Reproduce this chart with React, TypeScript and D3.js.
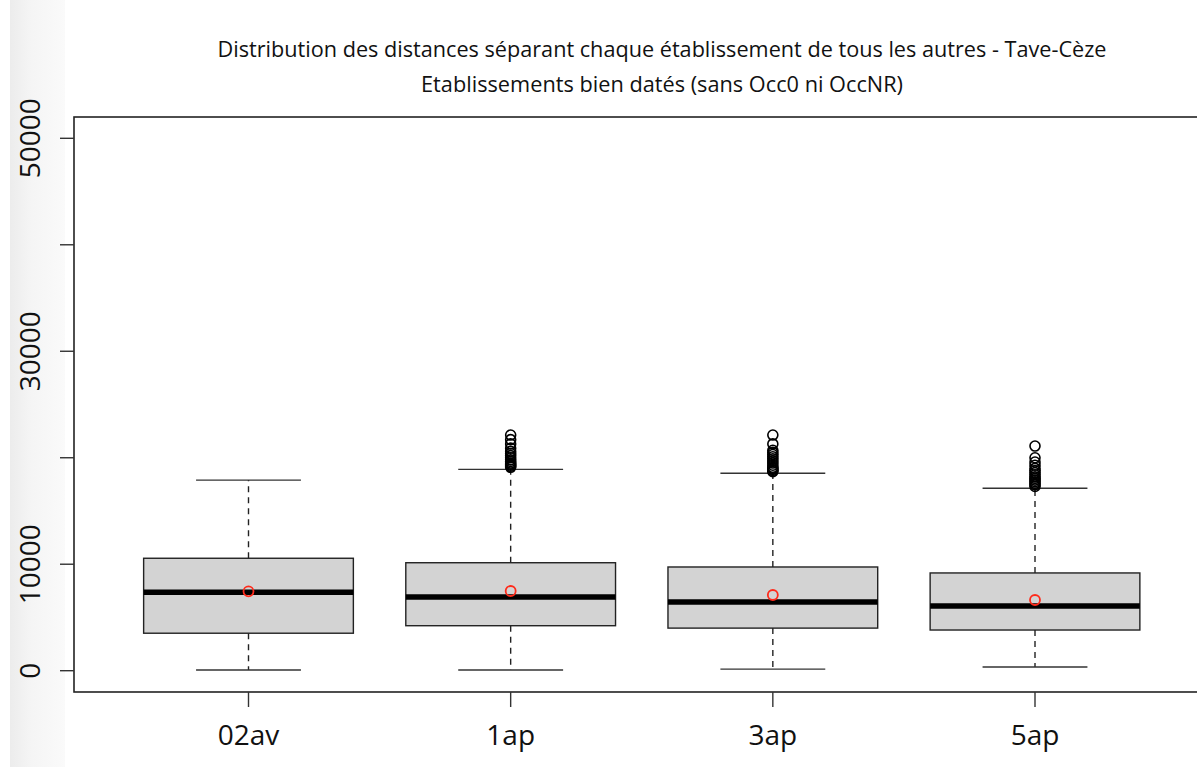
import React from "react";
import * as d3 from "d3";

const categories = ["02av", "1ap", "3ap", "5ap"];
const lowerWhisker = [60, 65, 150, 350];
const q1 = [3520, 4225, 4000, 3820];
const medians = [7360, 6920, 6450, 6080];
const q3 = [10560, 10140, 9740, 9180];
const upperWhisker = [17900, 18910, 18540, 17130];
const means = [7450, 7485, 7110, 6640];
const outliers: number[][] = [
  [],
  [19100, 19200, 19300, 19400, 19500, 19650, 19800, 20000, 20200, 20400, 20600, 20900, 21300, 21700, 22130],
  [18700, 18800, 18900, 19000, 19100, 19300, 19500, 19700, 19900, 20100, 20300, 20500, 20700, 21300, 22130],
  [17300, 17450, 17600, 17750, 17900, 18050, 18200, 18400, 18600, 18800, 19000, 19300, 19600, 20000, 21100],
];
const yTicks = [0, 10000, 20000, 30000, 40000, 50000];
const yTickLabels = ["0", "10000", "", "30000", "", "50000"];
const titleLines = [
  "Distribution des distances séparant chaque établissement de tous les autres - Tave-Cèze",
  "Etablissements bien datés (sans Occ0 ni OccNR)",
];

const W = 1197;
const H = 767;
const FONT = "'Open Sans', 'DejaVu Sans', sans-serif";

export default function App() {
  const x = d3.scaleLinear().domain([1, 4]).range([248.5, 1035]);
  const y = d3.scaleLinear().domain([0, 50000]).range([670.7, 138.3]);
  const unit = x(2) - x(1);
  const halfBox = unit * 0.4;
  const halfStaple = halfBox / 2;
  const frameLeft = 74;
  const frameRight = x(4.66);
  const frameTop = y(52000);
  const frameBottom = y(-2000);

  return (
    <svg
      width={W}
      height={H}
      style={{ position: "absolute", left: 0, top: 0, background: "#fff" }}
      fontFamily={FONT}
    >
      <defs>
        <linearGradient id="strip" x1="0" x2="1" y1="0" y2="0">
          <stop offset="0%" stopColor="#ececec" />
          <stop offset="40%" stopColor="#f5f5f5" />
          <stop offset="100%" stopColor="#fafafa" />
        </linearGradient>
      </defs>
      <rect x={0} y={0} width={W} height={H} fill="#fff" />
      <rect x={10} y={0} width={55} height={H} fill="url(#strip)" />

      {/* title */}
      <text x={662} y={57} fontSize={21} fontWeight={500} textAnchor="middle" fill="#111" textLength={889} lengthAdjust="spacingAndGlyphs">
        {titleLines[0]}
      </text>
      <text x={662} y={92} fontSize={21} fontWeight={500} textAnchor="middle" fill="#111" textLength={482} lengthAdjust="spacingAndGlyphs">
        {titleLines[1]}
      </text>

      {/* plot frame */}
      <rect
        x={frameLeft}
        y={frameTop}
        width={frameRight - frameLeft}
        height={frameBottom - frameTop}
        fill="none"
        stroke="#222"
        strokeWidth={1.6}
      />

      {/* y axis ticks */}
      {yTicks.map((t, i) => (
        <g key={"yt" + t}>
          <line x1={60} x2={frameLeft} y1={y(t)} y2={y(t)} stroke="#333" strokeWidth={1.4} />
          {yTickLabels[i] && (
            <text
              transform={`translate(40,${y(t)}) rotate(-90)`}
              fontSize={28}
              fontWeight={500}
              textAnchor="middle"
              fill="#111"
            >
              {yTickLabels[i]}
            </text>
          )}
        </g>
      ))}

      {/* x axis ticks */}
      {categories.map((c, i) => (
        <g key={"xt" + c}>
          <line x1={x(i + 1)} x2={x(i + 1)} y1={frameBottom} y2={707} stroke="#333" strokeWidth={1.4} />
          <text x={x(i + 1)} y={745} fontSize={28} fontWeight={500} textAnchor="middle" fill="#111">
            {c}
          </text>
        </g>
      ))}

      {/* boxes */}
      {categories.map((c, i) => {
        const cx = x(i + 1);
        return (
          <g key={"box" + c}>
            <line x1={cx} x2={cx} y1={y(q3[i])} y2={y(upperWhisker[i])} stroke="#222" strokeWidth={1.4} strokeDasharray="6,5" />
            <line x1={cx} x2={cx} y1={y(q1[i])} y2={y(lowerWhisker[i])} stroke="#222" strokeWidth={1.4} strokeDasharray="6,5" />
            <line x1={cx - halfStaple} x2={cx + halfStaple} y1={y(upperWhisker[i])} y2={y(upperWhisker[i])} stroke="#333" strokeWidth={1.4} />
            <line x1={cx - halfStaple} x2={cx + halfStaple} y1={y(lowerWhisker[i])} y2={y(lowerWhisker[i])} stroke="#333" strokeWidth={1.4} />
            <rect
              x={cx - halfBox}
              y={y(q3[i])}
              width={halfBox * 2}
              height={y(q1[i]) - y(q3[i])}
              fill="#d3d3d3"
              stroke="#222"
              strokeWidth={1.4}
            />
            <line x1={cx - halfBox} x2={cx + halfBox} y1={y(medians[i])} y2={y(medians[i])} stroke="#000" strokeWidth={5.5} />
            {outliers[i].map((v, j) => (
              <circle key={j} cx={cx} cy={y(v)} r={5} fill="none" stroke="#000" strokeWidth={1.6} />
            ))}
            <circle cx={cx} cy={y(means[i])} r={5} fill="none" stroke="#ff2a1a" strokeWidth={1.8} />
          </g>
        );
      })}
    </svg>
  );
}
